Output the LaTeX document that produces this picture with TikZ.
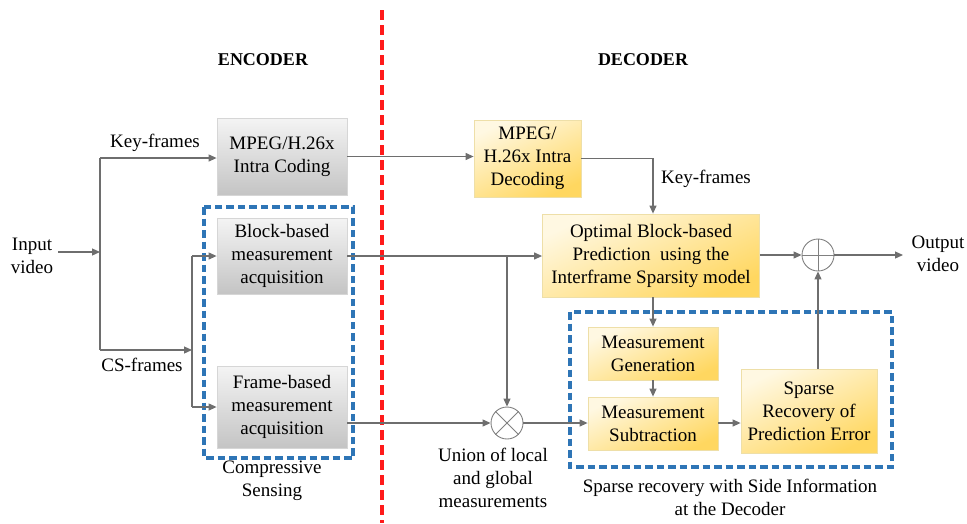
\documentclass[tikz,border=0pt]{standalone}
\usepackage{fontspec}
\setmainfont{Liberation Serif}
\usetikzlibrary{arrows.meta,calc}
\definecolor{lineg}{HTML}{6E6E6E}
\definecolor{circg}{HTML}{808080}
\definecolor{gtop}{HTML}{F4F4F4}
\definecolor{gbot}{HTML}{C4C4C4}
\definecolor{gbord}{HTML}{D6D6D6}
\definecolor{ytop}{HTML}{FFF8E2}
\definecolor{ybot}{HTML}{FFD760}
\definecolor{ybord}{HTML}{EEDFA8}
\definecolor{bluedash}{HTML}{2E75B6}
\definecolor{reddash}{HTML}{FF1A1A}
\begin{document}
\begin{tikzpicture}[x=1pt,y=-1pt,
  txt/.style={font=\fontsize{19}{23}\selectfont, align=center, inner sep=0pt},
  graybox/.style={txt, draw=gbord, line width=0.8pt, top color=gtop, bottom color=gbot},
  yelbox/.style={txt, draw=ybord, line width=0.8pt, top color=ytop, bottom color=ybot, shading angle=25},
  conn/.style={draw=lineg, line width=1.2pt},
  arr/.style={conn, -{Triangle[length=8pt,width=7pt]}},
  grp/.style={draw=bluedash, line width=3.2pt, dash pattern=on 7.5pt off 4pt},
  opcirc/.style={circle, draw=circg, line width=0.9pt, minimum size=32pt, inner sep=0pt, fill=white},
  hdr/.style={font=\fontsize{18}{22}\selectfont\bfseries, inner sep=0pt}
]
\useasboundingbox (0,0) rectangle (967,523);

% divider
\draw[reddash, line width=3.2pt, dash pattern=on 10pt off 5pt] (382,10) -- (382,523);
\node[hdr] (enc) at (263,60) {ENCODER};
\node[hdr] (dcd) at (643,60) {DECODER};

% group frames
\draw[grp] (204,207) rectangle (353,458);
\draw[grp] (570,312) rectangle (892,467);

% encoder boxes
\node[graybox, minimum width=130pt, minimum height=77pt] (intra) at (282,156.5) {MPEG/H.26x\\Intra Coding};
\node[graybox, minimum width=130pt, minimum height=76pt] (block) at (282,256) {Block-based\\measurement\\acquisition};
\node[graybox, minimum width=130pt, minimum height=82pt] (frame) at (282,407) {Frame-based\\measurement\\acquisition};

% decoder boxes
\node[yelbox, minimum width=107pt, minimum height=77pt] (dec) at (527.5,158.5) {MPEG/\\H.26x Intra\\Decoding};
\node[yelbox, minimum width=217pt, minimum height=83pt] (opt) at (651,255.5) {Optimal Block-based\\Prediction\ \ using the\\Interframe Sparsity model};
\node[yelbox, minimum width=130pt, minimum height=53pt] (gen) at (653,353.5) {Measurement\\Generation};
\node[yelbox, minimum width=130pt, minimum height=53pt] (sub) at (653,423.5) {Measurement\\Subtraction};
\node[yelbox, minimum width=136pt, minimum height=84pt] (spr) at (809,411) {Sparse\\Recovery of\\Prediction Error};

% operators
\node[opcirc] (u) at (507,423) {};
\draw[circg, line width=0.9pt] (u.north west) -- (u.south east) (u.north east) -- (u.south west);
\node[opcirc] (p) at (818,255) {};

% labels
\node[txt, inner xsep=3pt] (inp) at (32,256) {Input\\video};
\node[txt] (kfl) at (155,143) {Key-frames};
\node[txt] (csl) at (142,365) {CS-frames};
\node[txt] (csn) at (272,481) {Compressive\\Sensing};
\node[txt] (unl) at (493,478) {Union of local\\and global\\measurements};
\node[txt] (srl) at (730,497) {Sparse recovery with Side Information\\at the Decoder};
\node[txt] (kf2) at (706,179) {Key-frames};
\node[txt] (outl) at (938,254) {Output\\video};

% coordinates
\coordinate (sp) at (100,252);
\coordinate (kf) at (100,158);
\coordinate (cs) at (100,350);
\coordinate (csm) at (192,350);
\coordinate (csa) at (192,256);
\coordinate (csb) at (192,407);
\coordinate (outend) at (903,255);

% encoder connectors
\draw[arr] ($(inp.east|-sp)+(2,0)$) -- (sp);
\draw[conn] (kf) -- (cs);
\draw[arr] (kf) -- (kf -| intra.west);
\draw[arr] (cs) -- (csm);
\draw[conn] (csa) -- (csb);
\draw[arr] (csa) -- (csa -| block.west);
\draw[arr] (csb) -- (csb -| frame.west);

% cross connectors
\draw[arr] (intra.east) -- (intra.east -| dec.west);
\draw[arr] (block.east) -- (block.east -| opt.west);
\draw[arr] (block.east -| u.north) -- (u.north);
\draw[arr] (frame.east |- u.west) -- (u.west);

% decoder connectors
\draw[arr] (dec.east) -| (gen.north |- opt.north);
\draw[arr] (gen.north |- opt.south) -- (gen.north);
\draw[arr] (gen.south) -- (sub.north);
\draw[arr] (u.east) -- (u.east -| sub.west);
\draw[arr] (sub.east |- u.east) -- (u.east -| spr.west);
\draw[arr] (p |- spr.north) -- (p.south);
\draw[arr] (opt.east |- p.west) -- (p.west);
\draw[arr] (p.east) -- (outend);
\draw[circg, line width=0.9pt] (p.north) -- (p.south) (p.west) -- (p.east);
\end{tikzpicture}
\end{document}
